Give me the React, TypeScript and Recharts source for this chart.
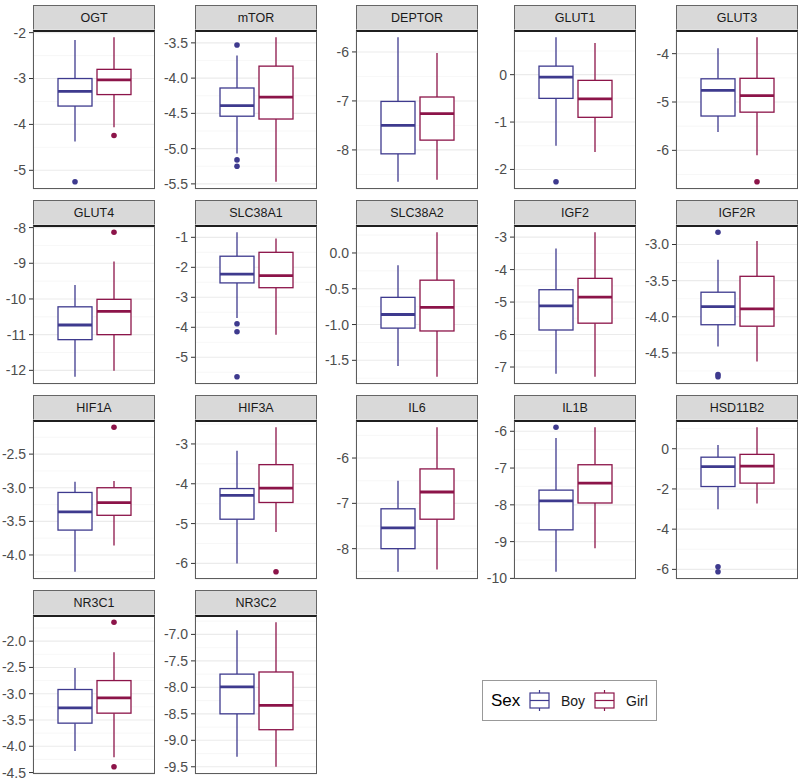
import React from 'react';
import { ComposedChart, Bar, XAxis, YAxis, CartesianGrid } from 'recharts';

// genes in facet order
const GENES = [
  'OGT', 'mTOR', 'DEPTOR', 'GLUT1', 'GLUT3',
  'GLUT4', 'SLC38A1', 'SLC38A2', 'IGF2', 'IGF2R',
  'HIF1A', 'HIF3A', 'IL6', 'IL1B', 'HSD11B2',
  'NR3C1', 'NR3C2',
];

// [lower whisker, Q1, median, Q3, upper whisker]
const BOY_BOX = [
  [-4.37, -3.6, -3.28, -3.0, -2.16],
  [-5.07, -4.54, -4.39, -4.14, -3.68],
  [-8.65, -8.08, -7.5, -7.01, -5.7],
  [-1.5, -0.5, -0.05, 0.18, 0.79],
  [-5.62, -5.29, -4.76, -4.52, -3.89],
  [-12.18, -11.14, -10.73, -10.22, -9.61],
  [-3.69, -2.52, -2.23, -1.63, -0.83],
  [-1.58, -1.05, -0.86, -0.62, -0.17],
  [-7.21, -5.86, -5.12, -4.62, -3.35],
  [-4.41, -4.11, -3.86, -3.66, -3.21],
  [-4.25, -3.63, -3.36, -3.07, -2.91],
  [-6.0, -4.89, -4.29, -4.12, -3.17],
  [-8.51, -8.0, -7.54, -7.12, -6.5],
  [-9.82, -8.68, -7.89, -7.6, -6.18],
  [-3.01, -1.88, -0.89, -0.42, 0.18],
  [-4.09, -3.56, -3.27, -2.92, -2.51],
  [-9.31, -8.5, -7.99, -7.75, -6.92],
];

const GIRL_BOX = [
  [-4.06, -3.35, -3.03, -2.8, -2.1],
  [-5.47, -4.58, -4.27, -3.83, -3.42],
  [-8.61, -7.8, -7.26, -6.92, -6.02],
  [-1.63, -0.9, -0.51, -0.12, 0.67],
  [-6.1, -5.21, -4.87, -4.51, -3.66],
  [-12.01, -11.0, -10.35, -10.01, -8.95],
  [-4.25, -2.68, -2.28, -1.5, -1.04],
  [-1.73, -1.09, -0.76, -0.38, 0.29],
  [-7.3, -5.65, -4.85, -4.27, -2.85],
  [-4.62, -4.13, -3.89, -3.44, -2.95],
  [-3.86, -3.41, -3.22, -3.0, -2.9],
  [-5.21, -4.47, -4.11, -3.52, -2.58],
  [-8.46, -7.35, -6.75, -6.24, -5.32],
  [-9.18, -7.95, -7.41, -6.91, -5.89],
  [-2.73, -1.71, -0.86, -0.28, 1.07],
  [-4.21, -3.37, -3.08, -2.75, -2.21],
  [-9.5, -8.8, -8.34, -7.71, -6.77],
];

const BOY_OUT = [
  [-5.25], [-3.53, -5.16, -5.25], [], [-2.26], [],
  [], [-3.88, -4.15, -5.65], [], [], [-2.83, -4.8, -4.83],
  [], [], [], [-5.89], [-5.87, -6.12],
  [], [],
];

const GIRL_OUT = [
  [-4.24], [], [], [], [-6.65],
  [-8.13], [], [], [], [],
  [-2.1], [-6.21], [], [], [],
  [-1.64, -4.39], [],
];

const Y_TICKS = [
  [-5, -4, -3, -2],
  [-5.5, -5, -4.5, -4, -3.5],
  [-8, -7, -6],
  [-2, -1, 0],
  [-6, -5, -4],
  [-12, -11, -10, -9, -8],
  [-5, -4, -3, -2, -1],
  [-1.5, -1, -0.5, 0],
  [-7, -6, -5, -4, -3],
  [-4.5, -4, -3.5, -3],
  [-4, -3.5, -3, -2.5],
  [-6, -5, -4, -3],
  [-8, -7, -6],
  [-10, -9, -8, -7, -6],
  [-6, -4, -2, 0],
  [-4.5, -4, -3.5, -3, -2.5, -2],
  [-9.5, -9, -8.5, -8, -7.5, -7],
];

const SEX_COLORS: Record<string, string> = { Boy: '#3E3A8E', Girl: '#8C1449' };

const PANEL_LEFT = [33, 195, 356, 514, 676];
const PLOT_TOP = [30, 225, 420, 615];
const PANEL_W = 122;
const PLOT_H = 159;
const STRIP_H = 25;
const AXIS_W = 40;
const PAD = 10;
const FONT = '"Liberation Sans", Arial, sans-serif';

const extent = (box: number[], out: number[]) => [Math.min(...box, ...out), Math.max(...box, ...out)];

// draws whiskers, box, median and outliers inside the bar's [min,max] span
const BoxShape = (props: any) => {
  const { x, y, width, height, payload } = props;
  if (!payload) return null;
  const [rmin, rmax] = payload.range;
  const top = Math.min(y, y + height);
  const bot = Math.max(y, y + height);
  const py = (v: number) => bot - ((v - rmin) / (rmax - rmin)) * (bot - top);
  const [lo, q1, med, q3, hi] = payload.box;
  const c = SEX_COLORS[payload.sex];
  const cx = x + width / 2;
  return (
    <g>
      <line x1={cx} x2={cx} y1={py(hi)} y2={py(q3)} stroke={c} strokeWidth={1.3} />
      <line x1={cx} x2={cx} y1={py(q1)} y2={py(lo)} stroke={c} strokeWidth={1.3} />
      <rect x={x} y={py(q3)} width={width} height={py(q1) - py(q3)} fill="#fff" stroke={c} strokeWidth={1.3} />
      <line x1={x} x2={x + width} y1={py(med)} y2={py(med)} stroke={c} strokeWidth={2.8} />
      {payload.out.map((v: number, i: number) => (
        <circle key={i} cx={cx} cy={py(v)} r={2.8} fill={c} />
      ))}
    </g>
  );
};

const Panel = ({ idx }: { idx: number }) => {
  const col = idx % 5;
  const row = Math.floor(idx / 5);
  const left = PANEL_LEFT[col];
  const top = PLOT_TOP[row];

  const data = [
    { sex: 'Boy', box: BOY_BOX[idx], out: BOY_OUT[idx], range: extent(BOY_BOX[idx], BOY_OUT[idx]) },
    { sex: 'Girl', box: GIRL_BOX[idx], out: GIRL_OUT[idx], range: extent(GIRL_BOX[idx], GIRL_OUT[idx]) },
  ];
  const all = data.flatMap(d => d.range);
  const lo = Math.min(...all);
  const hi = Math.max(...all);
  const r = hi - lo;
  const domain = [lo - 0.05 * r, hi + 0.05 * r];

  const ticks = Y_TICKS[idx];
  const step = ticks[1] - ticks[0];
  const minors = [ticks[0] - step / 2, ...ticks.map(t => t + step / 2)].filter(v => v > domain[0] && v < domain[1]);
  const dec = ticks.some(t => !Number.isInteger(t)) ? 1 : 0;

  return (
    <>
      <div
        style={{
          position: 'absolute', left, top: top - STRIP_H, width: PANEL_W, height: STRIP_H,
          background: '#D9D9D9', border: '1px solid #666', borderBottom: 'none', boxSizing: 'border-box',
          display: 'flex', alignItems: 'center', justifyContent: 'center',
          fontSize: 12.5, color: '#1A1A1A',
        }}
      >
        {GENES[idx]}
      </div>
      <div style={{ position: 'absolute', left: left - AXIS_W, top: top - PAD }}>
        <ComposedChart
          width={AXIS_W + PANEL_W}
          height={PLOT_H + 2 * PAD}
          data={data}
          margin={{ top: PAD, bottom: PAD, left: 0, right: 0 }}
        >
          <CartesianGrid vertical={false} horizontalValues={minors} stroke="#F3F3F3" strokeWidth={0.7} />
          <CartesianGrid vertical={false} stroke="#EBEBEB" strokeWidth={1.1} />
          <CartesianGrid horizontal={false} xAxisId="g" stroke="#EBEBEB" strokeWidth={1.1} />
          <XAxis dataKey="sex" type="category" hide padding={{ left: 22, right: 22 }} />
          <XAxis xAxisId="g" type="number" domain={[0, 2]} ticks={[1]} hide />
          <YAxis
            type="number"
            domain={domain}
            allowDataOverflow
            ticks={ticks}
            interval={0}
            width={AXIS_W}
            tickSize={4}
            tickMargin={3}
            axisLine={false}
            tickLine={{ stroke: '#333' }}
            tick={{ fill: '#4D4D4D', fontSize: 14 }}
            tickFormatter={(v: number) => v.toFixed(dec)}
          />
          <Bar dataKey="range" barSize={34} shape={BoxShape} isAnimationActive={false} />
        </ComposedChart>
      </div>
      <div
        style={{
          position: 'absolute', left, top, width: PANEL_W, height: PLOT_H, boxSizing: 'border-box',
          border: '1px solid #5C5C5C', borderTop: '2px solid #1F1F1F', pointerEvents: 'none',
        }}
      />
    </>
  );
};

const LegendKey = ({ x, color }: { x: number; color: string }) => (
  <g stroke={color} strokeWidth={1.2} fill="#fff">
    <line x1={x + 9.5} x2={x + 9.5} y1={10} y2={31} />
    <rect x={x} y={13} width={19} height={15} />
    <line x1={x} x2={x + 19} y1={20.5} y2={20.5} />
  </g>
);

const App = () => (
  <div style={{ position: 'absolute', left: 0, top: 0, width: 800, height: 780, background: '#fff', fontFamily: FONT }}>
    {GENES.map((g, i) => <Panel key={g} idx={i} />)}
    <svg style={{ position: 'absolute', left: 482, top: 680 }} width={175} height={41}>
      <rect x={0.5} y={0.5} width={174} height={40} fill="#fff" stroke="#999" />
      <text x={9} y={26} fontSize={17} fill="#000">Sex</text>
      <LegendKey x={48} color={SEX_COLORS.Boy} />
      <text x={79} y={25.5} fontSize={14} fill="#1A1A1A">Boy</text>
      <LegendKey x={113} color={SEX_COLORS.Girl} />
      <text x={144} y={25.5} fontSize={14} fill="#1A1A1A">Girl</text>
    </svg>
  </div>
);

export default App;
